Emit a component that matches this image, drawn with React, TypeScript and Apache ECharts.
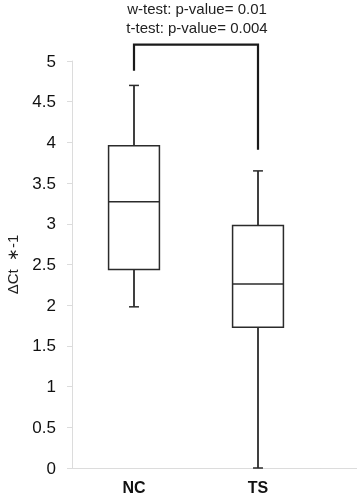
import React, { useEffect, useRef } from "react";
import * as echarts from "echarts";

const categories = ["NC", "TS"];
// [min, Q1, median, Q3, max]
const boxNC = [1.98, 2.44, 3.27, 3.96, 4.7];
const boxTS = [0, 1.73, 2.26, 2.98, 3.65];
const yTicks = [0, 0.5, 1, 1.5, 2, 2.5, 3, 3.5, 4, 4.5, 5];
// bracket: [left leg bottom, bracket top, right leg bottom]
const bracket = [4.88, 5.2, 3.91];
const annotations = ["w-test: p-value= 0.01", "t-test: p-value= 0.004"];
const yName = "\u0394Ct  \u2217-1";

export default function App() {
  const ref = useRef<HTMLDivElement>(null);
  useEffect(() => {
    if (!ref.current) return;
    const chart = echarts.init(ref.current, null, { renderer: "svg" });
    const boxData = [boxNC, boxTS].map((b, i) => [i, ...b]);
    const lineColor = "#2b2b2b";
    chart.setOption({
      animation: false,
      grid: { left: 72, right: 38, top: 61, bottom: 28, containLabel: false, outerBoundsMode: "none" },
      xAxis: {
        type: "category",
        data: categories,
        axisLine: { lineStyle: { color: "#dcdcdc", width: 1 } },
        axisTick: { length: 6, lineStyle: { color: "#dcdcdc" } },
        axisLabel: {
          color: "#111",
          fontSize: 16,
          fontWeight: "bold",
          fontFamily: "Liberation Sans Narrow, Liberation Sans, Arial",
          margin: 11,
        },
        splitLine: { show: false },
      },
      yAxis: {
        type: "value",
        min: yTicks[0],
        max: yTicks[yTicks.length - 1],
        interval: 0.5,
        name: yName,
        nameLocation: "middle",
        nameGap: 52,
        nameTextStyle: { color: "#222", fontSize: 15, fontFamily: "Liberation Sans, Arial" },
        axisLine: { show: true, lineStyle: { color: "#dcdcdc", width: 1 } },
        axisTick: { show: true, length: 5, lineStyle: { color: "#dcdcdc" } },
        axisLabel: {
          color: "#111",
          fontSize: 17,
          fontFamily: "Liberation Sans Narrow, Liberation Sans, Arial",
          margin: 16,
        },
        splitLine: { show: false },
      },
      graphic: [
        {
          type: "line",
          shape: { x1: 320, y1: 468.5, x2: 357, y2: 468.5 },
          style: { stroke: "#dcdcdc", lineWidth: 1 },
          silent: true,
        },
        {
          type: "text",
          x: 197,
          y: 8,
          style: {
            text: annotations[0],
            fill: "#222",
            fontSize: 15,
            fontFamily: "Liberation Sans, Arial",
            align: "center",
            verticalAlign: "middle",
          },
        },
        {
          type: "text",
          x: 197,
          y: 27,
          style: {
            text: annotations[1],
            fill: "#222",
            fontSize: 15,
            fontFamily: "Liberation Sans, Arial",
            align: "center",
            verticalAlign: "middle",
          },
        },
      ],
      series: [
        {
          type: "custom",
          data: boxData,
          encode: { x: 0, y: [1, 2, 3, 4, 5] },
          clip: false,
          renderItem: (params: any, api: any) => {
            const x = api.value(0);
            const pMin = api.coord([x, api.value(1)]);
            const pQ1 = api.coord([x, api.value(2)]);
            const pMed = api.coord([x, api.value(3)]);
            const pQ3 = api.coord([x, api.value(4)]);
            const pMax = api.coord([x, api.value(5)]);
            const band = api.size([1, 0])[0];
            const bw = band * 0.41;
            const cw = band * 0.08;
            const cx = pMed[0];
            const st = { stroke: lineColor, lineWidth: 1.5, fill: null };
            return {
              type: "group",
              children: [
                { type: "line", shape: { x1: cx, y1: pQ3[1], x2: cx, y2: pMax[1] }, style: { ...st, lineWidth: 1.8 } },
                { type: "line", shape: { x1: cx, y1: pQ1[1], x2: cx, y2: pMin[1] }, style: { ...st, lineWidth: 1.8 } },
                { type: "line", shape: { x1: cx - cw / 2, y1: pMax[1], x2: cx + cw / 2, y2: pMax[1] }, style: st },
                { type: "line", shape: { x1: cx - cw / 2, y1: pMin[1], x2: cx + cw / 2, y2: pMin[1] }, style: st },
                {
                  type: "rect",
                  shape: { x: cx - bw / 2, y: pQ3[1], width: bw, height: pQ1[1] - pQ3[1] },
                  style: { stroke: lineColor, lineWidth: 1.5, fill: "#fff" },
                },
                { type: "line", shape: { x1: cx - bw / 2, y1: pMed[1], x2: cx + bw / 2, y2: pMed[1] }, style: st },
              ],
            };
          },
        },
        {
          type: "custom",
          data: [bracket],
          encode: { y: [0, 1, 2] },
          clip: false,
          renderItem: (params: any, api: any) => {
            const a = api.coord([0, api.value(0)]);
            const b = api.coord([0, api.value(1)]);
            const c = api.coord([1, api.value(1)]);
            const d = api.coord([1, api.value(2)]);
            return {
              type: "polyline",
              shape: { points: [a, b, c, d] },
              style: { stroke: "#1a1a1a", lineWidth: 2.2, fill: null },
            };
          },
        },
      ],
    });
    return () => chart.dispose();
  }, []);
  return (
    <div
      ref={ref}
      style={{ position: "fixed", left: 0, top: 0, width: 358, height: 496 }}
    />
  );
}
